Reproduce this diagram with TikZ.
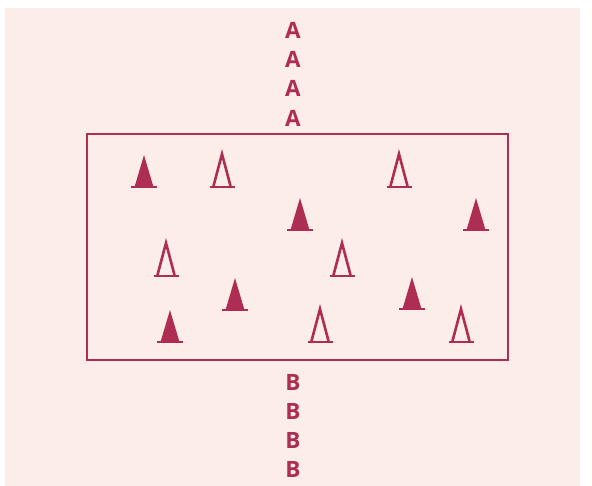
\documentclass[tikz,border=0pt]{standalone}
\usepackage{fontspec}
\setmainfont{Open Sans}
\definecolor{crim}{HTML}{AE2D52}
\definecolor{bgpink}{HTML}{FCEDE8}
\begin{document}
\begin{tikzpicture}[x=1pt,y=-1pt,
  lbl/.style={text=crim,font=\fontsize{22.5}{22.5}\selectfont\bfseries,inner sep=0pt,anchor=center},
  fcone/.pic={\fill[crim] (-9.5,0) -- (0,-32) -- (9.5,0) -- cycle;
              \draw[crim,line width=2.6pt] (-13,0) -- (13,0);},
  ocone/.pic={\draw[crim,line width=2.6pt,line join=miter] (-8.5,-1) -- (0,-33) -- (8.5,-1);
              \draw[crim,line width=2.6pt] (-12.5,0) -- (12.5,0);}
]
\useasboundingbox (0,0) rectangle (592,486);
\fill[bgpink] (5,8) rectangle (580,486);
\node[draw=crim,line width=2.2pt,minimum width=421pt,minimum height=226pt,inner sep=0pt] (field) at (297.5,247) {};
\foreach \y/\n in {30/a1,59/a2,88/a3,118/a4} \node[lbl] (\n) at (293,\y) {A};
\foreach \y/\n in {382/b1,411/b2,440/b3,469/b4} \node[lbl] (\n) at (293,\y) {B};
\foreach \x/\y in {144/187,300/230,476/230,235/310,412/309,170/342} \pic at (\x,\y) {fcone};
\foreach \x/\y in {222/187,399/187,166/276,342/276,320/342,461/342} \pic at (\x,\y) {ocone};
\end{tikzpicture}
\end{document}
